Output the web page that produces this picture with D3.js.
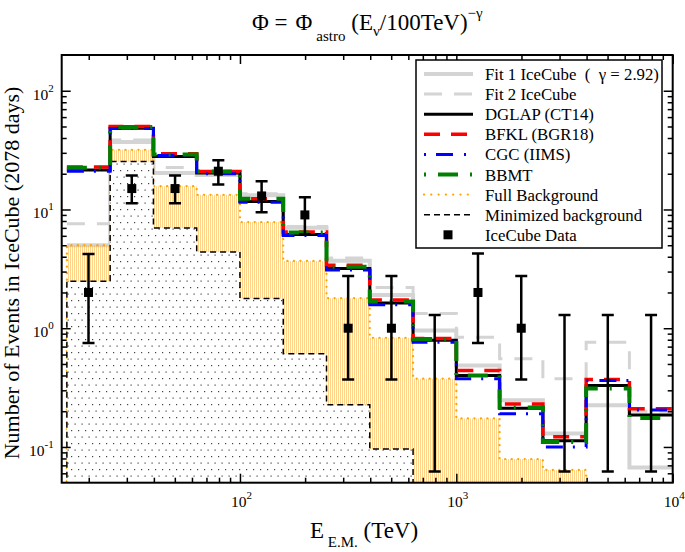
<!DOCTYPE html>
<html><head><meta charset="utf-8">
<script src="https://cdn.jsdelivr.net/npm/d3@7"></script>
<style>
body{margin:0;background:#fff}
svg{display:block}
text{font-family:"Liberation Serif","Times New Roman",serif;fill:#000}
</style>
</head><body>
<svg id="c" width="685" height="552"></svg>
<script>
// ---------------- data ----------------
const binEdges = [15.85, 25.12, 39.81, 63.10, 100, 158.5, 251.2, 398.1, 631.0, 1000, 1585, 2512, 3981, 6310, 10000];
const fit1   = [5.0, 37, 20.3, 19.5, 13.2, 7.0, 3.7, 1.9, 0.955, 0.486, 0.247, 0.13, 0.224, 0.067];
const fit2   = [7.6, 38.5, 22.6, 20.0, 13.6, 7.2, 3.9, 2.2, 1.33, 0.84, 0.553, 0.376, 0.76, 0.2];
const dglap  = [21.5, 48.4, 28.0, 20.3, 11.7, 6.17, 3.18, 1.63, 0.79, 0.40, 0.212, 0.113, 0.33, 0.186];
const bfkl   = [22.8, 50.0, 29.4, 20.9, 12.3, 6.46, 3.39, 1.73, 0.82, 0.44, 0.23, 0.122, 0.37, 0.21];
const cgc    = [21.0, 48.0, 28.5, 20.0, 11.5, 6.05, 3.10, 1.58, 0.76, 0.376, 0.19, 0.100, 0.363, 0.205];
const bbmt   = [22.5, 49.5, 29.0, 20.9, 12.3, 6.40, 3.30, 1.68, 0.81, 0.40, 0.215, 0.110, 0.31, 0.175];
const fullBg = [5.0, 31.8, 15.7, 13.3, 7.83, 3.69, 1.79, 0.83, 0.376, 0.174, 0.079, 0.064, null, null];
const minBg  = [2.49, 25.4, 6.97, 4.39, 1.78, 0.61, 0.227, 0.096, null, null, null, null, null, null];
const counts = [2, 15, 15, 21, 13, 9, 1, 1, 0, 2, 1, 0, 0, 0];
const errLo  = [0.75, 11.3, 11.3, 16.2, 9.5, 6.2, 0.37, 0.37, 0.062, 0.75, 0.37, 0.062, 0.062, 0.062];
const errHi  = [4.22, 19.3, 19.3, 26.0, 17.3, 12.7, 2.75, 2.75, 1.29, 4.25, 2.75, 1.29, 1.29, 1.29];
const xDomain = [15, 10000];
const yDomain = [0.05, 200];
const xMajor = [100, 1000, 10000];
const yMajor = [0.1, 1, 10, 100];
const xTickLabels = ["2", "3", "4"];
const yTickLabels = ["-1", "0", "1", "2"];
const legendLabels = ["Fit 1 IceCube  (  \u03b3 = 2.92)", "Fit 2 IceCube", "DGLAP (CT14)", "BFKL (BGR18)", "CGC (IIMS)", "BBMT", "Full Background", "Minimized background", "IceCube Data"];

// ---------------- layout ----------------
const L = 61.7, R = 672.7, T = 55, B = 482.7;
const svg = d3.select("#c");
const x = d3.scaleLog().domain(xDomain).range([L, R]);
const y = d3.scaleLog().domain(yDomain).range([B, T]);

const defs = svg.append("defs");
defs.append("clipPath").attr("id", "clip").append("rect")
  .attr("x", L).attr("y", T).attr("width", R - L).attr("height", B - T);
const pd = defs.append("pattern").attr("id", "dots").attr("patternUnits", "userSpaceOnUse")
  .attr("width", 7).attr("height", 13);
pd.append("rect").attr("width", 7).attr("height", 13).attr("fill", "#fff");
pd.append("rect").attr("x", 1).attr("y", 1).attr("width", 1.2).attr("height", 1.2).attr("fill", "#444");
pd.append("rect").attr("x", 4.5).attr("y", 7.5).attr("width", 1.2).attr("height", 1.2).attr("fill", "#444");
const po = defs.append("pattern").attr("id", "orng").attr("patternUnits", "userSpaceOnUse")
  .attr("width", 2).attr("height", 2);
po.append("rect").attr("width", 1).attr("height", 2).attr("fill", "#ffae2a").attr("opacity", 0.55);

const plot = svg.append("g").attr("clip-path", "url(#clip)");

// step helpers
function stepData(vals) {
  const pts = [];
  let i = 0;
  for (; i < vals.length; i++) {
    if (vals[i] == null) break;
    pts.push({e: binEdges[i], v: vals[i]});
  }
  pts.push({e: binEdges[i], v: vals[i - 1]});
  return pts;
}
const stepLine = d3.line().curve(d3.curveStepAfter).x(d => x(d.e)).y(d => y(d.v));
const stepArea = d3.area().curve(d3.curveStepAfter).x(d => x(d.e)).y0(B + 5).y1(d => y(d.v));
function closedOutline(vals) {
  const p = stepData(vals);
  const first = p[0], last = p[p.length - 1];
  return "M" + x(first.e) + "," + (B + 5) + "L" + x(first.e) + "," + y(first.v) +
    stepLine(p).slice(1).replace(/^[^LM]*/, m => "L" + m) + "L" + x(last.e) + "," + (B + 5);
}

// fits
plot.append("path").attr("d", stepLine(stepData(fit1))).attr("fill", "none")
  .attr("stroke", "#d4d4d4").attr("stroke-width", 4);
plot.append("path").attr("d", stepLine(stepData(fit2))).attr("fill", "none")
  .attr("stroke", "#d4d4d4").attr("stroke-width", 3).attr("stroke-dasharray", "18,12");

// full background
plot.append("path").attr("d", stepArea(stepData(fullBg))).attr("fill", "url(#orng)");
plot.append("path").attr("d", closedOutline(fullBg)).attr("fill", "none")
  .attr("stroke", "#ffa500").attr("stroke-width", 2.3).attr("stroke-linecap", "round")
  .attr("stroke-dasharray", "0,6.5");
// minimized background
plot.append("path").attr("d", stepArea(stepData(minBg))).attr("fill", "url(#dots)");
plot.append("path").attr("d", closedOutline(minBg)).attr("fill", "none")
  .attr("stroke", "#000").attr("stroke-width", 1.5).attr("stroke-dasharray", "6,4");

// models
const models = [
  {v: dglap, c: "#000", w: 3, d: null},
  {v: bfkl, c: "#ff0000", w: 3.5, d: "16,11"},
  {v: cgc, c: "#0000ff", w: 3, d: "17,10,2,11"},
  {v: bbmt, c: "#008000", w: 4, d: "20,12,2,12"}
];
models.forEach(m => {
  plot.append("path").attr("d", stepLine(stepData(m.v))).attr("fill", "none")
    .attr("stroke", m.c).attr("stroke-width", m.w).attr("stroke-dasharray", m.d);
});

// data
const centers = binEdges.slice(0, -1).map((e, i) => Math.sqrt(e * binEdges[i + 1]));
const dg = plot.append("g");
centers.forEach((c, i) => {
  const cx = x(c);
  dg.append("line").attr("x1", cx).attr("x2", cx).attr("y1", y(errLo[i])).attr("y2", y(errHi[i]))
    .attr("stroke", "#000").attr("stroke-width", 2.5);
  [errLo[i], errHi[i]].forEach(v => {
    dg.append("line").attr("x1", cx - 6).attr("x2", cx + 6).attr("y1", y(v)).attr("y2", y(v))
      .attr("stroke", "#000").attr("stroke-width", 2.5);
  });
  if (counts[i] > 0) {
    dg.append("rect").attr("x", cx - 4.5).attr("y", y(counts[i]) - 4.5)
      .attr("width", 9).attr("height", 9).attr("fill", "#000");
  }
});

// axes ticks
function minors(dom) {
  const out = [];
  for (let k = Math.floor(Math.log10(dom[0])); k <= Math.ceil(Math.log10(dom[1])); k++)
    for (let m = 2; m <= 9; m++) { const v = m * Math.pow(10, k); if (v > dom[0] && v < dom[1]) out.push(v); }
  return out;
}
function addAxis(axisFn, scale, vals, size, tr) {
  const g = svg.append("g").attr("transform", tr)
    .call(axisFn(scale).tickValues(vals).tickSize(-size).tickFormat(""));
  g.select(".domain").remove();
  g.selectAll("line").attr("stroke", "#000").attr("stroke-width", 1.5);
}
const xMin = minors(xDomain), yMin = minors(yDomain);
addAxis(d3.axisBottom, x, xMajor, 9, `translate(0,${B})`);
addAxis(d3.axisBottom, x, xMin, 5, `translate(0,${B})`);
addAxis(d3.axisTop, x, xMajor, 9, `translate(0,${T})`);
addAxis(d3.axisTop, x, xMin, 5, `translate(0,${T})`);
addAxis(d3.axisLeft, y, yMajor, 9, `translate(${L},0)`);
addAxis(d3.axisLeft, y, yMin, 5, `translate(${L},0)`);
addAxis(d3.axisRight, y, yMajor, 9, `translate(${R},0)`);
addAxis(d3.axisRight, y, yMin, 5, `translate(${R},0)`);

// frame
svg.append("rect").attr("x", L).attr("y", T).attr("width", R - L).attr("height", B - T)
  .attr("fill", "none").attr("stroke", "#000").attr("stroke-width", 2);

// tick labels
xMajor.forEach((v, i) => {
  const t = svg.append("text").attr("x", x(v) - 9).attr("y", B + 24).attr("font-size", 15.5);
  t.append("tspan").text("10");
  t.append("tspan").attr("dy", -8).attr("font-size", 11).text(xTickLabels[i]);
});
yMajor.forEach((v, i) => {
  const t = svg.append("text").attr("x", L - 8).attr("y", y(v) + 9).attr("font-size", 15.5)
    .attr("text-anchor", "end");
  t.append("tspan").text("10");
  t.append("tspan").attr("dy", -8).attr("font-size", 11).text(yTickLabels[i]);
});

// axis titles
const xt = svg.append("text").attr("x", 310).attr("y", 538).attr("font-size", 23);
xt.append("tspan").text("E");
xt.append("tspan").attr("dy", 9).attr("font-size", 15).text(" E.M.");
xt.append("tspan").attr("dy", -9).text(" (TeV)");

svg.append("text").attr("transform", "translate(19,273) rotate(-90)").attr("text-anchor", "middle")
  .attr("font-size", 22).text("Number of Events in IceCube (2078 days)");

// title
const tt = svg.append("text").attr("x", 252).attr("y", 30).attr("font-size", 23);
tt.append("tspan").text("\u03a6 =");
tt.append("tspan").attr("dx", 8).text("\u03a6");
tt.append("tspan").attr("dy", 11).attr("dx", 4).attr("font-size", 15).text("astro");
tt.append("tspan").attr("dy", -11).text(" (E");
tt.append("tspan").attr("dy", 6).attr("font-size", 15).text("\u03bd");
tt.append("tspan").attr("dy", -6).text("/100TeV)");
tt.append("tspan").attr("dy", -12).attr("font-size", 15).text("\u2212\u03b3");

// legend
const lg = svg.append("g");
const lx0 = 416, ly0 = 60, lw = 246, lh = 188;
lg.append("rect").attr("x", lx0).attr("y", ly0).attr("width", lw).attr("height", lh)
  .attr("fill", "#fff").attr("stroke", "#000").attr("stroke-width", 1.5);
const legStyles = [
  {c: "#d4d4d4", w: 4, d: null},
  {c: "#d4d4d4", w: 3, d: "18,12"},
  {c: "#000", w: 3, d: null},
  {c: "#ff0000", w: 3.5, d: "16,11"},
  {c: "#0000ff", w: 3, d: "2,10,17,11"},
  {c: "#008000", w: 4, d: "2,12,20,12"},
  {c: "#ffa500", w: 2.3, d: "0,7.3", cap: "round"},
  {c: "#000", w: 1.5, d: "6,4"},
  {marker: true}
];
legendLabels.forEach((lab, i) => {
  const yy = 74 + i * 20.1;
  const s = legStyles[i];
  if (s.marker) {
    lg.append("rect").attr("x", 448 - 4.5).attr("y", yy - 4.5).attr("width", 9).attr("height", 9).attr("fill", "#000");
  } else {
    lg.append("line").attr("x1", 424).attr("x2", 473).attr("y1", yy).attr("y2", yy)
      .attr("stroke", s.c).attr("stroke-width", s.w).attr("stroke-dasharray", s.d)
      .attr("stroke-linecap", s.cap || "butt");
  }
  lg.append("text").attr("x", 485).attr("y", yy + 6).attr("font-size", 16.8)
    .style("white-space", "pre").text(lab);
});
</script>
</body></html>
